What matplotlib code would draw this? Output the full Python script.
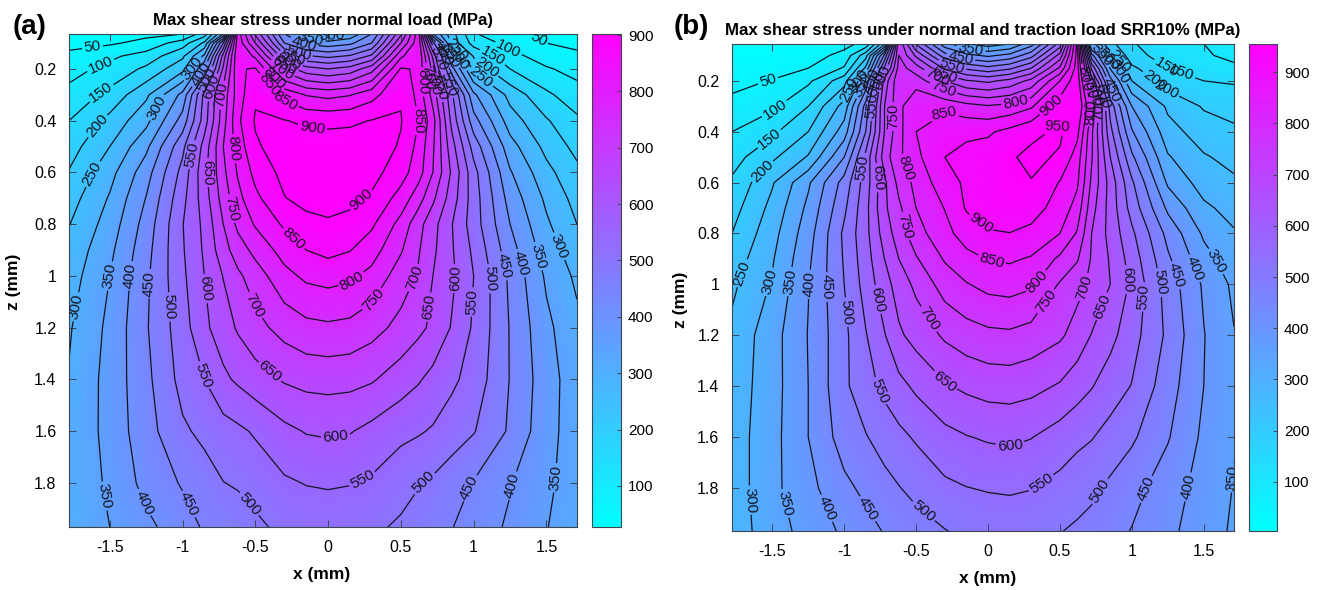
import matplotlib
matplotlib.use("Agg")
import matplotlib.pyplot as plt
import numpy as np

plt.rcParams['font.family'] = ['Liberation Sans', 'DejaVu Sans']

x_mm = [-1.78, -1.5, -1.25, -1, -0.85, -0.72, -0.62, -0.5, -0.3, -0.15, 0, 0.15, 0.3, 0.5, 0.62, 0.72, 0.85, 1, 1.25, 1.5, 1.71]
z_a = [0.065, 0.1, 0.15, 0.2, 0.3, 0.4, 0.5, 0.6, 0.7, 0.8, 0.9, 1.0, 1.2, 1.4, 1.6, 1.8, 1.97]
z_b = [0.055, 0.1, 0.15, 0.2, 0.3, 0.4, 0.5, 0.6, 0.7, 0.8, 0.9, 1.0, 1.2, 1.4, 1.6, 1.8, 1.97]

tau_a = [
    [25, 30, 38, 50, 125, 300, 830, 640, 400, 310, 280, 310, 400, 640, 830, 350, 220, 105, 60, 40, 30],
    [37, 43, 65, 125, 210, 500, 835, 700, 450, 388, 368, 388, 450, 700, 835, 520, 230, 130, 85, 50, 38],
    [60, 90, 120, 190, 310, 620, 845, 790, 560, 505, 487, 505, 560, 790, 845, 640, 330, 195, 115, 78, 60],
    [82, 115, 160, 235, 400, 660, 845, 855, 680, 620, 600, 620, 680, 855, 845, 680, 420, 235, 150, 105, 84],
    [115, 165, 240, 365, 565, 720, 825, 893, 835, 797, 785, 797, 832, 895, 835, 730, 560, 360, 232, 160, 120],
    [150, 215, 285, 420, 575, 730, 840, 905, 902, 891, 888, 891, 902, 903, 850, 770, 585, 420, 275, 205, 160],
    [178, 250, 338, 487, 620, 750, 822, 893, 925, 926, 925, 926, 925, 895, 835, 757, 620, 480, 320, 235, 185],
    [203, 283, 378, 517, 635, 738, 805, 865, 915, 931, 935, 931, 917, 872, 822, 750, 642, 518, 355, 265, 212],
    [228, 305, 402, 535, 625, 722, 785, 838, 898, 915, 920, 912, 893, 830, 772, 710, 625, 525, 380, 290, 232],
    [248, 322, 420, 548, 612, 700, 762, 805, 858, 885, 893, 885, 858, 783, 718, 668, 602, 525, 400, 308, 250],
    [265, 338, 432, 545, 607, 680, 725, 765, 820, 850, 865, 852, 822, 755, 705, 660, 605, 540, 420, 325, 272],
    [277, 350, 440, 540, 600, 652, 690, 725, 785, 810, 818, 810, 785, 725, 695, 650, 610, 550, 440, 342, 290],
    [295, 362, 445, 528, 590, 625, 656, 684, 718, 736, 741, 736, 718, 685, 662, 640, 596, 543, 447, 362, 312],
    [303, 368, 437, 517, 550, 590, 608, 628, 655, 665, 668, 665, 655, 625, 605, 585, 560, 530, 448, 372, 322],
    [305, 368, 430, 492, 512, 530, 540, 556, 588, 603, 607, 603, 586, 562, 555, 545, 525, 503, 443, 367, 325],
    [305, 360, 415, 455, 478, 499, 505, 518, 543, 552, 555, 552, 543, 520, 503, 492, 472, 447, 403, 360, 325],
    [303, 350, 388, 427, 456, 468, 476, 490, 512, 519, 522, 519, 510, 492, 480, 470, 452, 425, 393, 352, 320],
]

tau_b = [
    [5, 10, 20, 35, 65, 240, 745, 545, 370, 305, 275, 300, 380, 570, 915, 320, 215, 155, 115, 100, 75],
    [12, 18, 28, 65, 180, 460, 750, 640, 470, 415, 390, 415, 480, 670, 920, 470, 270, 170, 125, 105, 90],
    [25, 35, 50, 105, 260, 560, 770, 725, 590, 540, 515, 540, 600, 760, 925, 590, 345, 210, 150, 125, 108],
    [38, 52, 90, 180, 360, 670, 788, 775, 700, 655, 640, 665, 715, 850, 935, 680, 420, 250, 175, 150, 145],
    [62, 90, 150, 270, 470, 700, 785, 848, 838, 818, 805, 815, 843, 930, 950, 800, 530, 350, 240, 195, 180],
    [100, 140, 200, 325, 500, 700, 785, 850, 883, 890, 893, 915, 940, 957, 915, 760, 565, 405, 270, 225, 210],
    [130, 190, 255, 400, 565, 725, 790, 838, 900, 915, 925, 945, 960, 945, 875, 755, 600, 460, 305, 255, 235],
    [158, 245, 342, 470, 575, 690, 765, 815, 880, 908, 925, 942, 948, 897, 858, 740, 630, 508, 342, 278, 258],
    [180, 265, 362, 490, 585, 690, 740, 800, 852, 905, 925, 930, 920, 880, 830, 720, 630, 530, 390, 310, 282],
    [200, 282, 378, 510, 585, 672, 725, 780, 835, 872, 895, 899, 888, 850, 795, 700, 633, 560, 435, 342, 305],
    [222, 295, 390, 505, 578, 650, 700, 745, 805, 835, 852, 857, 845, 790, 755, 695, 645, 578, 458, 368, 322],
    [240, 305, 398, 500, 570, 630, 672, 712, 772, 797, 815, 820, 808, 745, 715, 690, 650, 590, 478, 393, 340],
    [262, 330, 402, 488, 547, 597, 642, 668, 708, 727, 738, 741, 730, 708, 680, 648, 615, 570, 490, 402, 352],
    [270, 330, 400, 490, 532, 562, 585, 610, 645, 660, 670, 672, 665, 645, 622, 603, 575, 548, 472, 400, 353],
    [275, 333, 400, 473, 497, 522, 538, 556, 585, 598, 606, 610, 602, 578, 562, 553, 532, 508, 454, 390, 352],
    [272, 337, 385, 438, 462, 483, 498, 515, 540, 549, 554, 556, 552, 535, 522, 510, 490, 467, 425, 380, 348],
    [272, 328, 368, 409, 433, 453, 465, 478, 498, 510, 517, 522, 515, 502, 492, 485, 465, 448, 412, 373, 343],
]

levels_a = list(range(50, 901, 50))
levels_b = list(range(50, 951, 50))
x_ticks = [-1.5, -1, -0.5, 0, 0.5, 1, 1.5]
x_ticklabels = ['-1.5', '-1', '-0.5', '0', '0.5', '1', '1.5']
z_ticks = [0.2, 0.4, 0.6, 0.8, 1, 1.2, 1.4, 1.6, 1.8]
z_ticklabels = ['0.2', '0.4', '0.6', '0.8', '1', '1.2', '1.4', '1.6', '1.8']
cbar_ticks_a = [100, 200, 300, 400, 500, 600, 700, 800, 900]
cbar_ticks_b = [100, 200, 300, 400, 500, 600, 700, 800, 900]

# where the contour labels sit (x, z)
labels_a = [(-1.62, .11), (-1.56, .19), (-1.55, .30), (-1.56, .43), (-1.6, .61), (-1.17, .35), (-1.72, 1.12),
            (-1.5, 1.0), (-1.35, 1.0), (-1.22, 1.03), (-1.1, 1.12), (-.86, 1.05), (-.95, .53), (-.83, .6),
            (-.67, .51), (-.67, .74), (-.26, .87), (.25, .72), (-.11, .43), (-.3, .33), (.62, .4), (.15, 1.01),
            (.33, 1.1), (.6, 1.01), (.69, 1.12), (.88, 1.01), (.97, 1.1), (1.11, 1.01), (1.22, .96), (1.33, .95),
            (1.47, .92), (1.61, .88), (-.53, 1.12), (-.4, 1.37), (-.83, 1.38), (.05, 1.62), (.24, 1.79),
            (.67, 1.81), (.98, 1.82), (1.27, 1.81), (1.56, 1.78), (-1.53, 1.85), (-1.24, 1.87), (-.95, 1.88),
            (-.56, 1.89), (1.44, .09), (1.24, .12), (1.15, .13), (1.12, .17), (1.08, .21),
            (.03, .07), (-.12, .09), (-.17, .11), (-.2, .13), (-.24, .15), (-.27, .17), (-.3, .19), (-.33, .21),
            (-.36, .23), (-.38, .25), (-.93, .2), (-.88, .22), (-.84, .24), (-.8, .27), (-.74, .3),
            (.66, .25), (.7, .23), (.74, .25), (.78, .27), (.82, .26), (.76, .16), (.8, .14), (.84, .15),
            (.88, .13), (.92, .15)]

labels_b = [(-1.53, .2), (-1.5, .3), (-1.53, .42), (-1.56, .56), (-1.69, .96), (-1.52, .99), (-1.37, .99),
            (-1.24, 1.0), (-1.1, 1.01), (-.99, 1.11), (-.77, 1.06), (-.875, .54), (-.757, .58), (-.56, .54),
            (-.56, .77), (-.05, .76), (.02, .92), (-.3, .33), (.19, .28), (.43, .29), (.46, .36), (.36, 1.0),
            (.71, 1.02), (.99, .98), (1.09, 1.05), (1.22, .99), (1.33, .96), (1.47, .93), (1.62, .9),
            (.46, 1.09), (.81, 1.09), (-.42, 1.14), (-.3, 1.38), (-.72, 1.41), (.15, 1.63), (.38, 1.79),
            (.8, 1.82), (1.12, 1.81), (1.42, 1.8), (1.69, 1.76), (-1.69, 1.85), (-1.4, 1.86), (-1.12, 1.88),
            (-.83, 1.88), (-.46, 1.9), (1.38, .11), (1.25, .14), (1.18, .18), (1.17, .21),
            (-.98, .23), (-.9, .2), (-.86, .22), (-.82, .2), (-.78, .21), (-.73, .19), (-.68, .34), (-.8, .3),
            (-.12, .08), (-.19, .11), (-.25, .14), (-.3, .17), (-.35, .18), (-.31, .23),
            (.67, .19), (.7, .22), (.75, .25), (.7, .32), (.77, .3), (.8, .26), (.85, .24),
            (.85, .11), (.9, .13), (.95, .15), (.8, .09)]

W, H = 1317, 590
fig = plt.figure(figsize=(W / 100, H / 100), dpi=100)
edge = '#3c4650'


def box(l, t, r, b):
    # pixel box of the picture -> figure axes
    return fig.add_axes([l / W, 1 - b / H, (r - l) / W, (b - t) / H])


def panel(pos, cpos, z, tau, levels, clim, labels, cticks, title, title_x, title_y, xl_x, xl_y, zl_x, zl_y):
    ax = box(*pos)
    ax.set_xlim(x_mm[0], x_mm[-1])
    ax.set_ylim(z[-1], z[0])
    tau = np.array(tau, dtype=float)
    mesh = ax.pcolormesh(x_mm, z, tau, shading='gouraud', cmap='cool', vmin=clim[0], vmax=clim[1], rasterized=True)
    cs = ax.contour(x_mm, z, tau, levels=levels, colors='#14141e', linewidths=0.9)
    ax.clabel(cs, manual=labels, inline=True, inline_spacing=2, fmt='%d', fontsize=11)
    ax.set_xticks(x_ticks, x_ticklabels)
    ax.set_yticks(z_ticks, z_ticklabels)
    ax.tick_params(direction='in', top=True, right=True, length=5, width=0.7, color=edge, labelsize=11.5, pad=9)
    for s in ax.spines.values():
        s.set_color(edge)
        s.set_linewidth(0.8)
    fig.text(title_x / W, 1 - title_y / H, title, ha='center', va='center', fontsize=12.2, fontweight='bold')
    fig.text(xl_x / W, 1 - xl_y / H, 'x (mm)', ha='center', va='center', fontsize=12.5, fontweight='bold')
    fig.text(zl_x / W, 1 - zl_y / H, 'z (mm)', ha='center', va='center', rotation=90, fontsize=12.5, fontweight='bold')

    cax = box(*cpos)
    cb = fig.colorbar(mesh, cax=cax)
    cb.set_ticks(cticks)
    cax.tick_params(direction='in', length=3, width=0.7, color=edge, labelsize=11, pad=5)
    cb.outline.set_edgecolor(edge)
    cb.outline.set_linewidth(0.8)


panel((69, 34, 577, 527), (592, 34, 621, 527), z_a, tau_a, levels_a, (27, 902), labels_a, cbar_ticks_a,
      'Max shear stress under normal load (MPa)', 323, 20, 322, 575, 14, 282)
panel((732, 44, 1234, 531), (1249, 44, 1277, 531), z_b, tau_b, levels_b, (4, 955), labels_b, cbar_ticks_b,
      'Max shear stress under normal and traction load SRR10% (MPa)', 983, 31, 988, 579, 681, 300)

fig.text(30 / W, 1 - 27 / H, '(a)', ha='center', va='center', fontsize=20, fontweight='bold')
fig.text(691 / W, 1 - 27 / H, '(b)', ha='center', va='center', fontsize=20, fontweight='bold')

plt.savefig('out.png', dpi=100)
